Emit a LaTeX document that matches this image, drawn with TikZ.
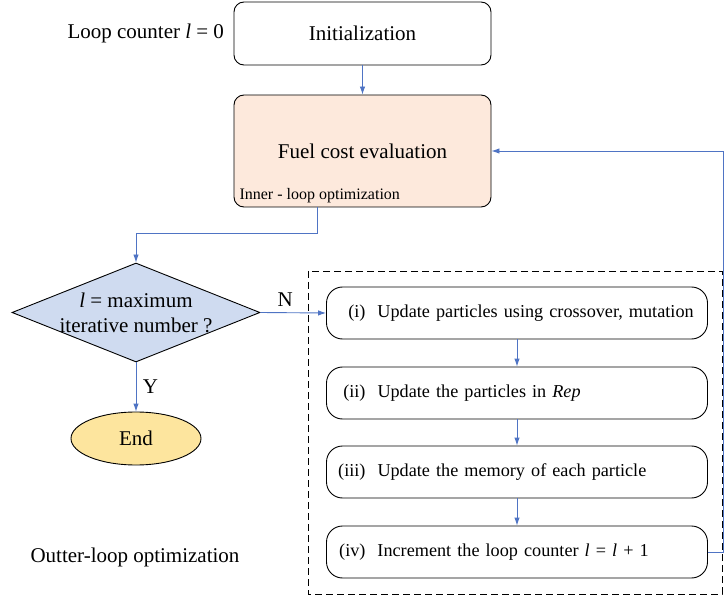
\documentclass[tikz,border=0pt]{standalone}
\usepackage{amsmath,amssymb}
\usepackage{fontspec}
\setmainfont{Liberation Serif}
\usepackage{tikz}
\usetikzlibrary{arrows.meta,positioning,shapes.geometric,calc}
\usepackage{xcolor}
\definecolor{FlowBlue}{HTML}{4f74c4}
\definecolor{FuelPeach}{HTML}{fde9dc}
\definecolor{TestBlue}{HTML}{cfdbf0}
\definecolor{EndYellow}{HTML}{fde59e}

\begin{document}
\begin{tikzpicture}[x=1pt,y=-1pt,
    font=\fontsize{21}{25}\selectfont,
    box/.style={draw,line width=0.9pt,rounded corners=10pt,minimum width=257pt},
    stepbox/.style={draw,line width=0.9pt,rounded corners=16pt,minimum width=381pt,minimum height=52pt,
      inner xsep=6pt,text width=369pt,align=left,font=\fontsize{18.2}{21}\selectfont},
    flow/.style={draw=FlowBlue,line width=0.9pt,-{Latex[length=8pt,width=5.5pt]}}]
  \useasboundingbox (0,0) rectangle (724,599);

  % inner loop
  \node[box,minimum height=63pt] (init) at (362.5,33.5) {Initialization};
  \node[left=6pt of init] (ctr) {Loop counter \textit{l} = 0};
  \node[box,fill=FuelPeach,minimum height=112pt] (fuel) at (362.5,151) {Fuel cost evaluation};
  \node[anchor=west,font=\fontsize{16}{18}\selectfont] (inner) at (236,196) {Inner - loop optimization};

  % decision and end
  \node[diamond,draw,line width=0.9pt,fill=TestBlue,inner sep=0pt,minimum width=248pt,minimum height=99pt,
    label={[align=center]center:\textit{l} = maximum\\iterative number ?}] (test) at (136,312.5) {};
  \node[ellipse,draw,line width=0.9pt,fill=EndYellow,minimum width=130pt,minimum height=53pt] (end) at (136,438.5) {End};
  \node (outer) at (135,557) {Outter-loop optimization};

  % outer loop steps
  \draw[dash pattern=on 7pt off 4pt,line width=0.9pt] (308,271) rectangle (722,594);
  \node[stepbox] (s1) at (517,313) {\makebox[33pt][r]{(i)}\hspace{12pt}Update particles using crossover, mutation};
  \node[stepbox] (s2) at (517,393) {\makebox[33pt][r]{(ii)}\hspace{12pt}Update the particles in \textit{Rep}};
  \node[stepbox] (s3) at (517,472) {\makebox[33pt][r]{(iii)}\hspace{12pt}Update the memory of each particle};
  \node[stepbox] (s4) at (517,552) {\makebox[33pt][r]{(iv)}\hspace{12pt}Increment the loop counter \textit{l} = \textit{l} + 1};
  \coordinate (ret) at (723,552);

  % connectors
  \draw[flow] (init) -- (fuel);
  \draw[flow] ([xshift=-45.5pt]fuel.south) -- ++(0,26) -| (test.north);
  \draw[flow] (test.east) -- node[above,yshift=2pt,xshift=-8pt] (no) {N} (s1.west);
  \draw[flow] (test.south) -- node[right,xshift=3pt] (yes) {Y} (end.north);
  \draw[flow] (s1) -- (s2);
  \draw[flow] (s2) -- (s3);
  \draw[flow] (s3) -- (s4);
  \draw[flow] (s4.east) -- (ret) |- (fuel.east);
\end{tikzpicture}
\end{document}
